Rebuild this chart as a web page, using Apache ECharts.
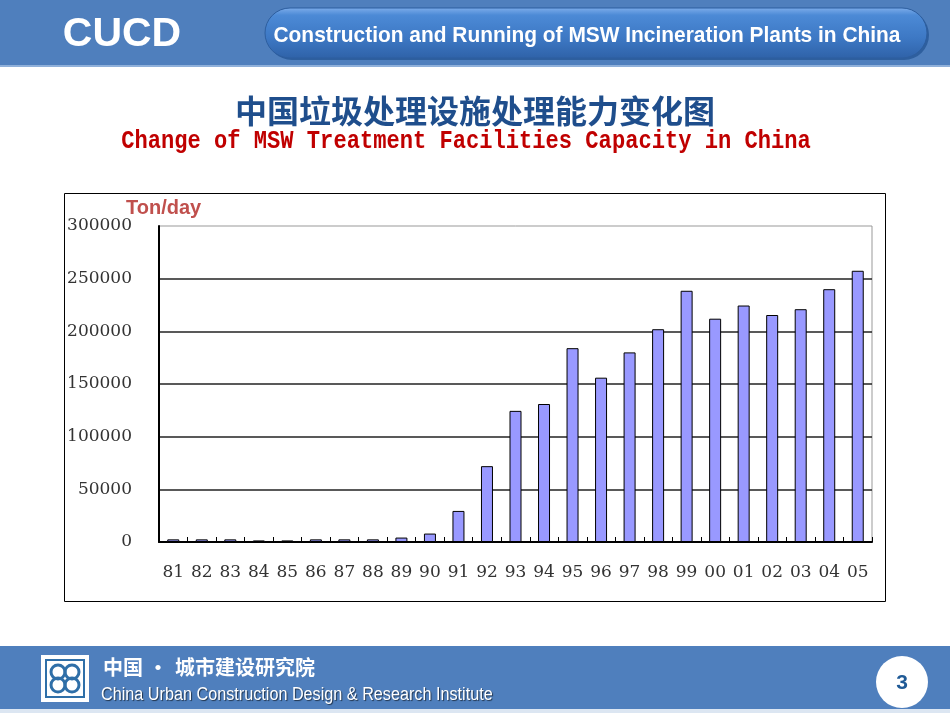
<!DOCTYPE html>
<html>
<head>
<meta charset="utf-8">
<script src="https://cdn.jsdelivr.net/npm/echarts@6/dist/echarts.min.js"></script>
<style>
html,body{margin:0;padding:0;background:#fff;}
#c{width:950px;height:713px;}
</style>
</head>
<body>
<div id="c"></div>
<script>
const years = ['81','82','83','84','85','86','87','88','89','90','91','92','93','94','95','96','97','98','99','00','01','02','03','04','05'];
const capacity = [2500,2500,2500,1500,1500,2500,2500,2500,4200,8000,29500,72000,124500,131000,184000,156000,180000,202000,238500,212000,224500,215500,221000,240000,257500];
const yTicks = [0,50000,100000,150000,200000,250000,300000];

const chart = echarts.init(document.getElementById('c'), null, {renderer:'canvas'});
const serif = '"DejaVu Serif", "Liberation Serif", serif';

chart.setOption({
  animation:false,
  backgroundColor:'#fff',
  title:[
    {text:'中国垃圾处理设施处理能力变化图', left:'center', top:90,
     textStyle:{fontFamily:'"Noto Sans CJK SC", sans-serif', fontSize:32, fontWeight:'bold', color:'#1F4E8C'}}
  ],
  graphic:[
    // header band
    {type:'rect', shape:{x:0,y:0,width:950,height:66}, style:{fill:'#4F7FBD'}, z:0},
    {type:'rect', shape:{x:0,y:65,width:950,height:2}, style:{fill:'#8FB0DA'}, z:0},
    {type:'text', style:{text:'CUCD', x:122, y:35, fill:'#fff', font:'bold 41px "Liberation Sans", Arial, sans-serif', textAlign:'center', textVerticalAlign:'middle'}, z:5},
    {type:'rect', shape:{x:267,y:10,width:662,height:50,r:25}, style:{fill:'#2E5F9E'}, z:1},
    {type:'rect', shape:{x:265,y:8,width:662,height:50,r:25},
      style:{fill:new echarts.graphic.LinearGradient(0,0,0,1,[{offset:0,color:'#7FAEEB'},{offset:0.15,color:'#4C8AD6'},{offset:0.6,color:'#3D78C4'},{offset:1,color:'#2F62A8'}]), stroke:'#2D5E9F', lineWidth:1}, z:2},
    {type:'text', x:587, y:36, scaleX:0.95, style:{text:'Construction and Running of MSW Incineration Plants in China', x:0, y:0, fill:'#fff', font:'bold 22px "Liberation Sans", Arial, sans-serif', textAlign:'center', textVerticalAlign:'middle'}, z:5},
    // english title
    {type:'text', x:466, y:141, scaleX:0.85, style:{text:'Change of MSW Treatment Facilities Capacity in China', x:0, y:0, fill:'#C00000', font:'bold 26px "Liberation Mono", "DejaVu Sans Mono", monospace', textAlign:'center', textVerticalAlign:'middle'}, z:5},
    // chart frame
    {type:'rect', shape:{x:64.5,y:193.5,width:821,height:408}, style:{fill:'none', stroke:'#000', lineWidth:1}, z:1},
    {type:'text', style:{text:'Ton/day', x:126, y:208, fill:'#C0504D', font:'bold 20px "Liberation Sans", Arial, sans-serif', textVerticalAlign:'middle'}, z:5},
    // footer band
    {type:'rect', shape:{x:0,y:646,width:950,height:63}, style:{fill:'#4F7FBD'}, z:0},
    {type:'rect', shape:{x:0,y:709,width:950,height:4}, style:{fill:'#DCE6F2'}, z:0},
    {type:'rect', shape:{x:41,y:655,width:48,height:47}, style:{fill:'#fff'}, z:2},
    {type:'rect', shape:{x:46,y:660,width:38,height:37}, style:{fill:'none', stroke:'#2F6FA8', lineWidth:2}, z:3},
    {type:'circle', shape:{cx:58,cy:672,r:7}, style:{fill:'none', stroke:'#2F6FA8', lineWidth:3}, z:3},
    {type:'circle', shape:{cx:72,cy:672,r:7}, style:{fill:'none', stroke:'#2F6FA8', lineWidth:3}, z:3},
    {type:'circle', shape:{cx:58,cy:685,r:7}, style:{fill:'none', stroke:'#2F6FA8', lineWidth:3}, z:3},
    {type:'circle', shape:{cx:72,cy:685,r:7}, style:{fill:'none', stroke:'#2F6FA8', lineWidth:3}, z:3},
    {type:'text', style:{text:'中国', x:103, y:667, fill:'#fff', font:'bold 20px "Noto Sans CJK SC", sans-serif', textVerticalAlign:'middle'}, z:5},
    {type:'text', style:{text:'·', x:158, y:667, fill:'#fff', font:'bold 20px "Noto Sans CJK SC", sans-serif', textAlign:'center', textVerticalAlign:'middle'}, z:5},
    {type:'text', style:{text:'城市建设研究院', x:175, y:667, fill:'#fff', font:'bold 20px "Noto Sans CJK SC", sans-serif', textVerticalAlign:'middle'}, z:5},
    {type:'text', x:101, y:695, scaleX:0.9, style:{text:'China Urban Construction Design & Research Institute', x:0, y:0, fill:'#fff', font:'18px "Liberation Sans", Arial, sans-serif', textVerticalAlign:'middle', textShadowColor:'rgba(0,0,0,0.6)', textShadowOffsetX:1, textShadowOffsetY:1, textShadowBlur:1}, z:5},
    {type:'circle', shape:{cx:902,cy:682,r:26}, style:{fill:'#fff'}, z:3},
    {type:'text', style:{text:'3', x:902, y:683, fill:'#1F5A96', font:'bold 21px "Liberation Sans", Arial, sans-serif', textAlign:'center', textVerticalAlign:'middle'}, z:5}
  ],
  grid:{left:159, right:78, top:226, bottom:171, show:true, borderColor:'#999', borderWidth:1, backgroundColor:'transparent'},
  xAxis:{
    type:'category', data:years,
    axisLine:{lineStyle:{color:'#000', width:2}},
    axisTick:{show:true, inside:true, length:5, lineStyle:{color:'#000'}},
    axisLabel:{fontFamily:serif, fontSize:17, color:'#333', margin:22, interval:0}
  },
  yAxis:{
    type:'value', min:0, max:300000, interval:50000,
    axisLine:{show:true, lineStyle:{color:'#000', width:2}},
    axisTick:{show:false},
    splitLine:{show:true, showMaxLine:false, lineStyle:{color:'#222', width:1.5}},
    axisLabel:{fontFamily:serif, fontSize:17, color:'#333', margin:27,
      formatter:function(v){return yTicks.indexOf(v)>=0 ? String(v) : '';}}
  },
  series:[{
    type:'bar', data:capacity, barWidth:12,
    itemStyle:{color:'#9999FF', borderColor:'#000', borderWidth:1}
  }]
});
</script>
</body>
</html>
